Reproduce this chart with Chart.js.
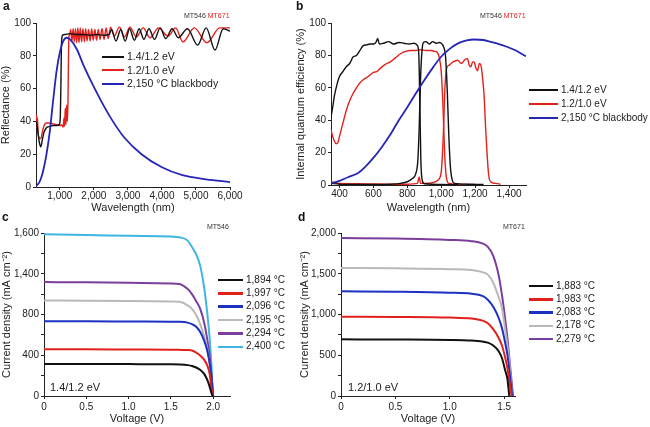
<!DOCTYPE html>
<html>
<head>
<meta charset="utf-8">
<script src="https://cdn.jsdelivr.net/npm/chart.js@4.4.1/dist/chart.umd.min.js"></script>
<style>
  body { margin:0; background:#fff; width:650px; height:427px; position:relative; overflow:hidden;
         font-family:"Liberation Sans", Arial, sans-serif; color:#222; }
  canvas { position:absolute; }
  .lbl { position:absolute; white-space:nowrap; line-height:1; }
  .tag { font-weight:bold; font-size:12px; color:#111; }
  .mt { font-size:7px; color:#333; }
  .red { color:#e3211c; }
</style>
</head>
<body>
<canvas id="ca" width="322" height="214" style="left:0;top:0"></canvas>
<canvas id="cb" width="356" height="214" style="left:294px;top:0"></canvas>
<canvas id="cc" width="322" height="213" style="left:0;top:214px"></canvas>
<canvas id="cd" width="356" height="213" style="left:294px;top:214px"></canvas>

<div class="lbl tag" style="left:3px;top:0">a</div>
<div class="lbl tag" style="left:296px;top:0">b</div>
<div class="lbl tag" style="left:2px;top:211px">c</div>
<div class="lbl tag" style="left:298px;top:211px">d</div>
<div class="lbl mt" style="left:184px;top:12px">MT546 <span class="red">MT671</span></div>
<div class="lbl mt" style="left:480px;top:12px">MT546 <span class="red">MT671</span></div>
<div class="lbl mt" style="left:207px;top:223px">MT546</div>
<div class="lbl mt" style="left:503px;top:223px">MT671</div>
<div class="lbl" style="left:50px;top:382px;font-size:11px">1.4/1.2 eV</div>
<div class="lbl" style="left:348px;top:382px;font-size:11px">1.2/1.0 eV</div>

<script>
const FONT = '"Liberation Sans", Arial, sans-serif';
const INK = '#222';
const BLACK = '#111111', RED = '#e3211c', BLUE = '#2626b4';
const CBLUE = '#1d30c4', GREY = '#b9b9b9', PURPLE = '#7b3e9c', CYAN = '#3fb5e2';

// ---- panel a: reflectance ----
const aBlackX = [300,330,360,400,440,480,530,600,700,800,900,980,1010,1030,1050,1080,1150,1300,1500,1700,1900,2100,2300,2450,2520,2650,2790,2920,3050,3190,3330,3470,3620,3780,3950,4110,4300,4480,4750,5050,5300,5560,5800,6000];
const aBlackY = [40,38,33,27,24.5,28,33,36,37,37.5,37.5,38,41,60,88,92.5,93,93.5,93,93,92.5,93,92.5,93,96,89,96,89,96.5,89.5,96.5,90,96.5,90,97,90.5,96.5,91,96.5,86.5,97,83.5,96.5,95];
const aRedX = [300,310,320,330,345,360,400,440,480,530,600,700,800,900,1000,1050,1100,1120,1140,1160,1180,1200,1220,1240,1255,1270,1290,
  1320,1355,1390,1425,1460,1495,1530,1565,1600,1640,1680,1720,1760,1800,1845,1890,1935,1980,2030,2080,2130,2180,2240,2300,2360,2420,2490,
  2600,2750,2900,3060,3250,3450,3650,3900,4180,4400,4620,4950,5320,5700,6000];
const aRedY = [43,38,44,36,42,33,30,29.5,33,37,39,39,38.5,38,37.5,38,36.5,42,37,48,38,50,40,52,80,92,93,
  96,89,96.5,88.5,96.5,88,97,88,97,88.5,96.5,88.5,96.5,89,96,89,96.5,89.5,96,89.5,96,90,96.5,90,97,90.5,97.5,
  92,97.5,91.5,97.5,91.5,97,91,97,92,97,88.5,97,88,97,97];
const aBodyX = [300,350,400,450,500,600,700,800,900,1000,1100,1200,1300,1500,1700,2000,2200,2500,2900,3400,4000,4600,5300,6000];
const aBodyY = [0.5,1.5,3,5.5,9,19,33,52,70,82,89,91,90,84,74,61,53,42,30,20,12,7.2,4.7,3];
const aXTicks = [1000,2000,3000,4000,5000,6000];
const aXLabels = ['1,000','2,000','3,000','4,000','5,000','6,000'];
const pctTicks = [0,20,40,60,80,100];
const pctLabels = ['0','20','40','60','80','100'];

// ---- panel b: internal quantum efficiency ----
const bBlackTopX = [350,360,370,385,400,420,440,460,480,500,520,540,560,580,600,615,625,635,660,690,720,750,780,810,840,860,868,874,880,888,900,950,1000,1100];
const bBlackTopY = [42,48,55,62,67,70,73,75,79,80,83,86,86.5,87,87,88,90.5,87,87.5,88.5,87,88,87.5,87,87.5,86,80,50,15,3,0.8,0.5,0.3,0.2];
const bBlackBotX = [350,400,500,600,700,760,800,830,850,862,870,878,886,895,910,930,950,970,990,1005,1015,1025,1035,1045,1055,1065,1080,1150,1250];
const bBlackBotY = [1,0.5,0.3,0.3,0.5,1,2,4,7,15,35,65,82,88,88.5,87,88.5,87.5,88,87,85,80,60,30,10,3,1,0.5,0.3];
const bRedTopX = [350,360,370,380,390,400,420,440,460,480,500,520,540,570,600,620,640,670,700,730,760,790,820,850,880,910,940,960,975,990,1000,1010,1020,1030,1045,1100,1200];
const bRedTopY = [34,30,27,25.5,26,30,38,46,52,56.5,60,63,65,67,69.5,70,72,74.5,76,78.5,81,82.5,83,83,83.5,83,83,82.5,82,78,70,50,20,5,1,0.5,0.3];
const bRedBotX = [350,370,400,500,600,700,800,860,870,878,900,950,980,1000,1012,1022,1032,1047,1070,1096,1120,1140,1155,1165,1175,1185,1194,1205,1214,1225,1235,1245,1253,1262,1270,1280,1292,1320,1350];
const bRedBotY = [2,1.5,1,0.8,0.6,0.5,0.5,1,5,1,1,1.5,3,8,30,60,72,74,76,77,75,77.5,78,74,73,76,76,72,70.5,75,73.5,65,55,35,20,6,2,1,0.5];
const bBodyX = [350,400,450,508,550,606,650,704,750,802,850,900,950,998,1050,1096,1150,1194,1250,1292,1340,1390,1440,1488,1500];
const bBodyY = [1,2.5,4.8,7.2,11,17.5,23.5,31.8,40,48.3,56.5,64.7,72.3,79,84,87.3,89.2,89.8,89.5,88.3,87,85.2,83,80.1,79.5];
const bXTicks = [400,600,800,1000,1200,1400];
const bXLabels = ['400','600','800','1,000','1,200','1,400'];

// ---- panel c: J-V, 1.4/1.2 eV ----
const cVolt = [0,0.5,1.0,1.5,1.6,1.7,1.75,1.8,1.85,1.9,1.93,1.96,1.98,2.0,2.03];
const cJ1894 = [315,314,313,311,309,303,295,280,255,210,160,90,30,-20,-200];
const cJ1997 = [459,458,456,454,453,451,446,425,395,350,300,215,79,0,-250];
const cJ2096 = [734,733,731,729,728,720,705,680,625,530,450,320,190,10,-300];
const cJ2195 = [938,936,933,928,925,890,855,795,700,570,470,308,150,0,-300];
const cJ2294 = [1118,1116,1112,1105,1100,1050,1000,931,850,700,560,390,210,0,-300];
const cJ2400 = [1587,1581,1572,1565,1558,1525,1462,1390,1270,1030,820,560,308,-30,-300];
const cTemps = ['1,894 °C','1,997 °C','2,096 °C','2,195 °C','2,294 °C','2,400 °C'];
const cXTicks = [0,0.5,1,1.5,2];
const cXLabels = ['0','0.5','1.0','1.5','2.0'];
const cYTicks = [0,200,400,600,800,1000,1200,1400,1600];
const cYLabels = ['0','','400','','800','','1,400','','1,600'];

// ---- panel d: J-V, 1.2/1.0 eV ----
const dVolt = [0,0.5,1.0,1.2,1.3,1.35,1.4,1.45,1.48,1.51,1.53,1.55,1.57,1.6];
const dJ1883 = [695,693,688,680,668,655,620,550,466,313,210,-30,-200,-400];
const dJ1983 = [973,970,962,950,925,893,820,712,620,470,345,170,-20,-350];
const dJ2083 = [1284,1280,1268,1255,1228,1182,1095,957,834,650,507,290,50,-350];
const dJ2178 = [1571,1566,1556,1545,1520,1489,1390,1210,1080,810,620,384,60,-400];
const dJ2279 = [1939,1932,1915,1900,1872,1830,1720,1480,1240,940,712,440,160,-250];
const dTemps = ['1,883 °C','1,983 °C','2,083 °C','2,178 °C','2,279 °C'];
const dXTicks = [0,0.5,1,1.5];
const dXLabels = ['0','0.5','1.0','1.5'];
const dYTicks = [0,250,500,750,1000,1250,1500,1750,2000];
const dYLabels = ['0','','500','','1,000','','1,500','','2,000'];

const bandLabels = ['1.4/1.2 eV','1.2/1.0 eV','2,150 °C blackbody'];

function series(xs, ys, color, w) {
  return { data: xs.map((x, i) => ({ x, y: ys[i] })), borderColor: color, borderWidth: w, fill: false };
}

function axis(o) {
  return {
    type: 'linear', min: o.min, max: o.max,
    border: { color: INK, width: 1 },
    grid: { drawOnChartArea: false, color: INK, tickLength: 3 },
    ticks: { color: INK, font: { size: 10, family: FONT }, padding: o.tpad ?? 2, maxRotation: 0, autoSkip: false,
             callback: v => { const i = o.ticks.indexOf(v); return i < 0 ? '' : o.labels[i]; } },
    afterBuildTicks: s => { s.ticks = o.ticks.map(v => ({ value: v })); },
    afterFit: s => { if (s.isHorizontal()) s.height = o.size; else s.width = o.size; },
    title: { display: true, text: o.title, color: INK, font: { size: 11, family: FONT, lineHeight: 1 }, padding: o.pad }
  };
}

function plot(id, sets, x, y, pad) {
  new Chart(document.getElementById(id), {
    type: 'line',
    data: { datasets: sets },
    options: {
      responsive: false, animation: false, devicePixelRatio: 1,
      layout: { padding: { left: 0, top: pad.top, right: pad.right, bottom: 0 } },
      plugins: { legend: { display: false }, tooltip: { enabled: false } },
      elements: { point: { radius: 0 }, line: { cubicInterpolationMode: 'monotone' } },
      scales: { x, y }
    }
  });
}

function legend(x, y, dy, w, labels, colors, thick, size) {
  labels.forEach((t, i) => {
    const yc = y + i * dy;
    const sw = document.createElement('div');
    sw.style.cssText = `position:absolute;left:${x}px;top:${yc - thick / 2}px;width:${w}px;height:${thick}px;background:${colors[i]}`;
    document.body.appendChild(sw);
    const tx = document.createElement('div');
    tx.className = 'lbl';
    tx.style.cssText += `left:${x + w + 3}px;top:${yc - size / 2 - 0.5}px;font-size:${size}px`;
    tx.textContent = t;
    document.body.appendChild(tx);
  });
}

plot('ca', [
  series(aBodyX, aBodyY, BLUE, 1.8),
  series(aBlackX, aBlackY, BLACK, 1.4),
  series(aRedX, aRedY, RED, 1.4)
], axis({ min: 300, max: 6000, ticks: aXTicks, labels: aXLabels, title: 'Wavelength (nm)', size: 27, pad: 1, tpad: 0 }),
   axis({ min: 0, max: 100, ticks: pctTicks, labels: pctLabels, title: 'Reflectance (%)', size: 36, pad: 0 }),
   { top: 23, right: 92 });

plot('cb', [
  series(bBodyX, bBodyY, BLUE, 1.8),
  series(bBlackTopX, bBlackTopY, BLACK, 1.4),
  series(bBlackBotX, bBlackBotY, BLACK, 1.4),
  series(bRedTopX, bRedTopY, RED, 1.4),
  series(bRedBotX, bRedBotY, RED, 1.4)
], axis({ min: 350, max: 1500, ticks: bXTicks, labels: bXLabels, title: 'Wavelength (nm)', size: 29, pad: 1, tpad: 0 }),
   axis({ min: 0, max: 100, ticks: pctTicks, labels: pctLabels, title: 'Internal quantum efficiency (%)', size: 37, pad: 1.5 }),
   { top: 23, right: 124 });

const cCols = [BLACK, RED, CBLUE, GREY, PURPLE, CYAN];
plot('cc', [cJ1894, cJ1997, cJ2096, cJ2195, cJ2294, cJ2400].map((ys, i) => series(cVolt, ys, cCols[i], 2)),
   axis({ min: 0, max: 2.2, ticks: cXTicks, labels: cXLabels, title: 'Voltage (V)', size: 31, pad: 3 }),
   axis({ min: 0, max: 1600, ticks: cYTicks, labels: cYLabels, title: 'Current density (mA cm⁻²)', size: 44, pad: 1 }),
   { top: 19, right: 92 });

const dCols = [BLACK, RED, CBLUE, GREY, PURPLE];
plot('cd', [dJ1883, dJ1983, dJ2083, dJ2178, dJ2279].map((ys, i) => series(dVolt, ys, dCols[i], 2)),
   axis({ min: 0, max: 1.6, ticks: dXTicks, labels: dXLabels, title: 'Voltage (V)', size: 31, pad: 3 }),
   axis({ min: 0, max: 2000, ticks: dYTicks, labels: dYLabels, title: 'Current density (mA cm⁻²)', size: 47, pad: 5.5 }),
   { top: 19, right: 135 });

legend(102, 57, 13.3, 22, bandLabels, [BLACK, RED, BLUE], 2, 10.5);
legend(529, 90, 14.2, 29, bandLabels, [BLACK, RED, BLUE], 2, 10);
legend(218, 280, 13.35, 25, cTemps, cCols, 2.5, 10);
legend(529, 286, 13.3, 24, dTemps, dCols, 2.5, 10);
</script>
</body>
</html>
